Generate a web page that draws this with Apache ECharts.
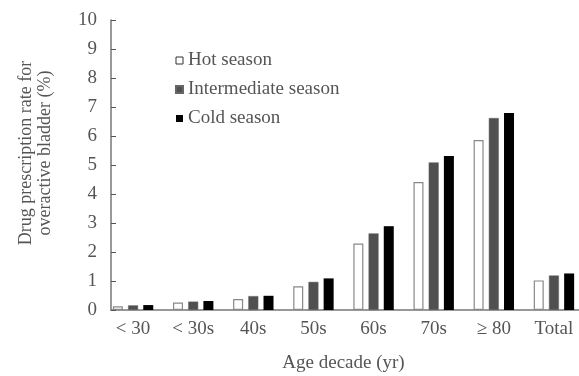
<!DOCTYPE html>
<html><head><meta charset="utf-8">
<script src="https://cdn.jsdelivr.net/npm/echarts@6/dist/echarts.min.js"></script>
<style>html,body{margin:0;padding:0;background:#fff}#c{width:579px;height:376px}</style>
</head><body><div id="c"></div>
<script>
var categories = ['< 30', '< 30s', '40s', '50s', '60s', '70s', '\u2265 80', 'Total'];
var hotSeason = [0.13, 0.26, 0.38, 0.82, 2.29, 4.41, 5.86, 1.02];
var intermediateSeason = [0.16, 0.29, 0.48, 0.97, 2.64, 5.09, 6.62, 1.19];
var coldSeason = [0.17, 0.31, 0.49, 1.09, 2.89, 5.31, 6.79, 1.26];
var yTicks = [0, 1, 2, 3, 4, 5, 6, 7, 8, 9, 10];

var FONT = 'Liberation Serif';
var TXT = '#555';
var chart = echarts.init(document.getElementById('c'), null, {renderer: 'canvas'});
chart.setOption({
  animation: false,
  textStyle: {fontFamily: FONT},
  grid: [
    {left: 103, right: -5, top: 20, bottom: 66, outerBoundsMode: 'none', containLabel: false},
    {left: 111, right: 0, top: 20, bottom: 66, outerBoundsMode: 'none', containLabel: false}
  ],
  legend: {
    orient: 'vertical', left: 170, top: 46,
    itemWidth: 7, itemHeight: 7, itemGap: 10,
    textStyle: {fontFamily: FONT, fontSize: 19, color: TXT},
    data: [
      {name: 'Hot season', icon: 'rect', itemStyle: {color: '#fff', borderColor: '#333', borderWidth: 1}},
      {name: 'Intermediate season', icon: 'rect'},
      {name: 'Cold season', icon: 'rect'}
    ]
  },
  xAxis: [
    {type: 'category', gridIndex: 0, data: categories,
     axisLine: {show: false}, axisTick: {show: false},
     axisLabel: {fontFamily: FONT, fontSize: 19, color: TXT, margin: 10},
     name: 'Age decade (yr)', nameLocation: 'middle', nameGap: 44,
     nameTextStyle: {fontFamily: FONT, fontSize: 19, color: TXT}},
    {type: 'value', gridIndex: 1, min: 0, max: 1,
     axisLine: {show: true, onZero: false, lineStyle: {color: '#777', width: 1.5}},
     axisTick: {show: false}, axisLabel: {show: false}, splitLine: {show: false}}
  ],
  yAxis: [
    {type: 'value', gridIndex: 0, min: 0, max: 10, interval: 1, show: false},
    {type: 'value', gridIndex: 1, min: 0, max: 10, interval: 1,
     axisLine: {show: true, lineStyle: {color: '#777', width: 1.5}},
     axisTick: {show: true, inside: true, length: 5, lineStyle: {color: '#555'}},
     axisLabel: {fontFamily: FONT, fontSize: 19, color: TXT, margin: 14,
       formatter: function (v) { return yTicks.indexOf(v) >= 0 ? String(v) : ''; }},
     splitLine: {show: false},
     name: 'Drug prescription rate for\noveractive bladder (%)',
     nameLocation: 'middle', nameGap: 56,
     nameTextStyle: {fontFamily: FONT, fontSize: 18, color: TXT, lineHeight: 19, padding: [0, 0, 0, 24]}}
  ],
  series: [
    {name: 'Hot season', type: 'bar', xAxisIndex: 0, yAxisIndex: 0, data: hotSeason,
     barWidth: 10, barGap: '52%',
     itemStyle: {color: '#fff', borderColor: '#888', borderWidth: 1.2}},
    {name: 'Intermediate season', type: 'bar', xAxisIndex: 0, yAxisIndex: 0, data: intermediateSeason,
     barWidth: 10, barGap: '52%',
     itemStyle: {color: '#505050', borderColor: '#666', borderWidth: 0.5}},
    {name: 'Cold season', type: 'bar', xAxisIndex: 0, yAxisIndex: 0, data: coldSeason,
     barWidth: 10, barGap: '52%',
     itemStyle: {color: '#000'}}
  ]
});
</script></body></html>
